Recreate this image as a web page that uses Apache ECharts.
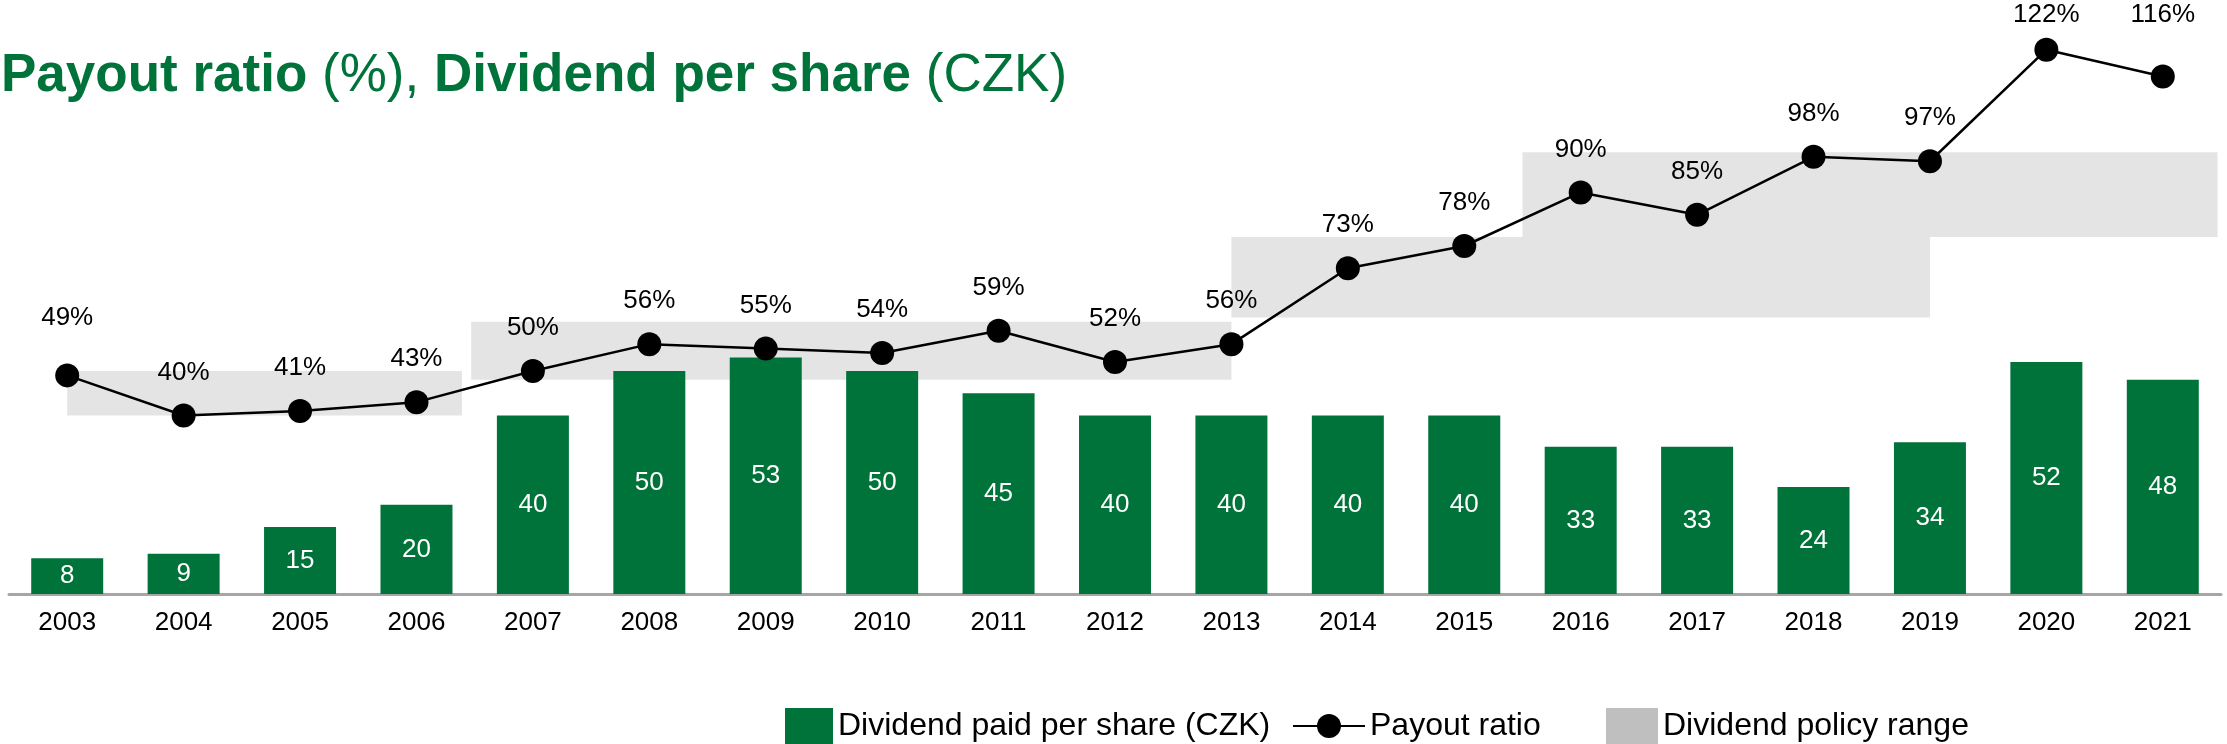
<!DOCTYPE html>
<html>
<head>
<meta charset="utf-8">
<script src="https://cdn.jsdelivr.net/npm/echarts@6/dist/echarts.min.js"></script>
<style>
  html, body { margin: 0; padding: 0; background: #fff; }
  #chart { width: 2227px; height: 744px; }
</style>
</head>
<body>
<div id="chart"></div>
<script>
var years = ['2003', '2004', '2005', '2006', '2007', '2008', '2009', '2010', '2011', '2012',
             '2013', '2014', '2015', '2016', '2017', '2018', '2019', '2020', '2021'];
var dividend = [8, 9, 15, 20, 40, 50, 53, 50, 45, 40, 40, 40, 40, 33, 33, 24, 34, 52, 48];
var payout = [49, 40, 41, 43, 50, 56, 55, 54, 59, 52, 56, 73, 78, 90, 85, 98, 97, 122, 116];

// policy range bands: start / end in category index units, low / high in %
var bandStart = [0, 3.47, 10, 12.5];
var bandEnd = [3.39, 10, 16, 18.47];
var bandLow = [40, 48, 62, 80];
var bandHigh = [50, 61, 80, 99];

var green = '#00733a';
var font = '"Liberation Sans", Arial, sans-serif';

var chartDom = document.getElementById('chart');
var myChart = echarts.init(chartDom);

var bands = bandStart.map(function (s, i) {
    return [s, bandEnd[i], bandLow[i], bandHigh[i]];
});

// a few labels sit further from / closer to their point
var labelDist = { 0: 33, 17: 10, 18: 37 };
var payoutData = payout.map(function (v, i) {
    return { value: v, label: { distance: labelDist[i] !== undefined ? labelDist[i] : 18 } };
});

function renderBand(params, api) {
    var p0 = api.coord([api.value(0), api.value(3)]);
    var p1 = api.coord([api.value(1), api.value(2)]);
    return {
        type: 'rect',
        shape: { x: p0[0], y: p0[1], width: p1[0] - p0[0], height: p1[1] - p0[1] },
        style: { fill: '#e4e4e4' }
    };
}

var option = {
    animation: false,
    textStyle: { fontFamily: font },
    title: {
        left: -4,
        top: 45,
        text: '{b|Payout ratio }{r|(%), }{b|Dividend per share }{r|(CZK)}',
        textStyle: {
            rich: {
                b: { fontSize: 53, fontWeight: 'bold', color: green, fontFamily: font, lineHeight: 53 },
                r: { fontSize: 53, fontWeight: 'normal', color: green, fontFamily: font, lineHeight: 53 }
            }
        }
    },
    legend: [
        {
            left: 780, top: 703, itemWidth: 48, itemHeight: 37,
            data: [{ name: 'Dividend paid per share (CZK)', icon: 'rect' }],
            textStyle: { fontSize: 32, color: '#000', fontFamily: font }
        },
        {
            left: 1287, top: 705, itemWidth: 72, itemHeight: 30,
            data: ['Payout ratio'],
            textStyle: { fontSize: 32, color: '#000', fontFamily: font }
        },
        {
            left: 1601, top: 703, itemWidth: 52, itemHeight: 37,
            data: [{ name: 'Dividend policy range', icon: 'rect', itemStyle: { color: '#bfbfbf' } }],
            textStyle: { fontSize: 32, color: '#000', fontFamily: font }
        }
    ],
    grid: { left: 9, right: 6, top: 14, bottom: 150 },
    xAxis: [
        {
            type: 'category',
            data: years,
            axisLine: { lineStyle: { color: '#a6a6a6', width: 3 } },
            axisTick: { show: false },
            axisLabel: { fontSize: 26, color: '#000', margin: 16, fontFamily: font }
        },
        { type: 'value', min: -0.5, max: 18.5, show: false }
    ],
    yAxis: { type: 'value', min: 0, max: 130, show: false },
    series: [
        {
            name: 'Dividend policy range',
            type: 'custom',
            xAxisIndex: 1,
            z: 1,
            renderItem: renderBand,
            encode: { x: [0, 1], y: [2, 3] },
            itemStyle: { color: '#bfbfbf' },
            data: bands
        },
        {
            name: 'Dividend paid per share (CZK)',
            type: 'bar',
            barWidth: 72,
            z: 2,
            itemStyle: { color: green },
            label: { show: true, position: 'inside', color: '#fff', fontSize: 26, fontFamily: font },
            data: dividend
        },
        {
            name: 'Payout ratio',
            type: 'line',
            z: 3,
            symbol: 'circle',
            symbolSize: 24,
            lineStyle: { color: '#000', width: 2.5 },
            itemStyle: { color: '#000' },
            label: { show: true, position: 'top', color: '#000', fontSize: 26, fontFamily: font, formatter: '{c}%' },
            data: payoutData
        }
    ]
};

option && myChart.setOption(option);
</script>
</body>
</html>
